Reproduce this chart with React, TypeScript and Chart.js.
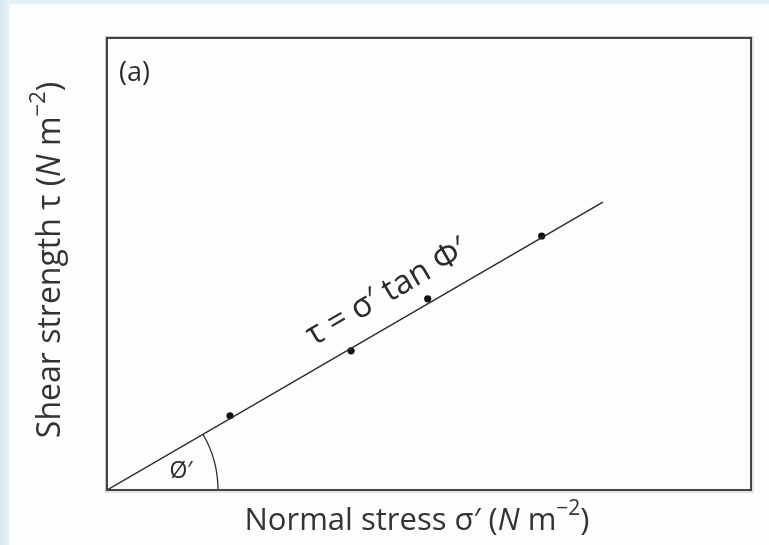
import React, { useEffect, useRef } from "react";
import { Chart, registerables } from "chart.js";

Chart.register(...registerables);

// Failure envelope (Mohr–Coulomb, no cohesion) and measured test points
const envelopeSigma = [0, 77];
const envelopeTau = [0, 63.7];
const testSigma = [19.1, 37.9, 49.8, 67.5];
const testTau = [16.4, 30.8, 42.3, 56.2];
const axisMin = 0;
const axisMax = 100;

const panelLabel = "(a)";
const angleLabel = "Ø′";
const envelopeLabel = "τ = σ′ tan Φ′";
const xTitleParts = [
  { t: "Normal stress σ′ (" },
  { t: "N", italic: true },
  { t: " m" },
  { t: "−2", sup: true },
  { t: ")" },
];
const yTitleParts = [
  { t: "Shear strength τ (" },
  { t: "N", italic: true },
  { t: " m" },
  { t: "−2", sup: true },
  { t: ")" },
];

const FONT = "'Open Sans', 'DejaVu Sans', sans-serif";
const INK = "#2b2b2b";

type Part = { t: string; italic?: boolean; sup?: boolean };

function partFont(p: Part, size: number) {
  const s = p.sup ? Math.round(size * 0.68) : size;
  return `${p.italic ? "italic " : ""}${s}px ${FONT}`;
}

// Draws a run of mixed-style text centred on (0,0) of the current transform
function drawRich(ctx: CanvasRenderingContext2D, parts: Part[], size: number) {
  let total = 0;
  const widths = parts.map((p) => {
    ctx.font = partFont(p, size);
    const w = ctx.measureText(p.t).width;
    total += w;
    return w;
  });
  let x = -total / 2;
  ctx.textBaseline = "middle";
  ctx.textAlign = "left";
  parts.forEach((p, i) => {
    ctx.font = partFont(p, size);
    ctx.fillText(p.t, x, p.sup ? -size * 0.38 : 0);
    x += widths[i];
  });
}

const decorations = {
  id: "decorations",
  afterDatasetsDraw(chart: any) {
    const { ctx, chartArea, scales } = chart;
    const xs = scales.x;
    const ys = scales.y;
    ctx.save();

    // Envelope angle arc at the origin
    const ox = xs.getPixelForValue(envelopeSigma[0]);
    const oy = ys.getPixelForValue(envelopeTau[0]);
    const ex = xs.getPixelForValue(envelopeSigma[1]);
    const ey = ys.getPixelForValue(envelopeTau[1]);
    const ang = Math.atan2(ey - oy, ex - ox);
    ctx.strokeStyle = INK;
    ctx.lineWidth = 1.3;
    ctx.beginPath();
    ctx.arc(ox, oy, 111, ang, 0);
    ctx.stroke();

    ctx.fillStyle = INK;
    ctx.font = `23px ${FONT}`;
    ctx.textAlign = "center";
    ctx.textBaseline = "middle";
    ctx.fillText(angleLabel, ox + 74, oy - 19);

    // Label written along the envelope
    const along = 45.8;
    const lx = xs.getPixelForValue(along);
    const ly = ys.getPixelForValue((along * envelopeTau[1]) / envelopeSigma[1]);
    ctx.save();
    ctx.translate(lx, ly);
    ctx.rotate(ang);
    ctx.translate(0, -30);
    ctx.font = `33px ${FONT}`;
    ctx.fillText(envelopeLabel, 0, 0);
    ctx.restore();

    // Panel label
    ctx.font = `27px ${FONT}`;
    ctx.textAlign = "left";
    ctx.fillText(panelLabel, chartArea.left + 12, chartArea.top + 35);

    // Plot frame
    ctx.strokeStyle = "#c8c8c8";
    ctx.lineWidth = 1;
    ctx.strokeRect(chartArea.left - 1.5, chartArea.top - 1.5, chartArea.width + 3.5, chartArea.height + 3.5);
    ctx.strokeStyle = "#444";
    ctx.lineWidth = 2;
    ctx.strokeRect(chartArea.left, chartArea.top, chartArea.width, chartArea.height);

    // Axis titles
    ctx.fillStyle = "#333";
    ctx.save();
    ctx.translate((chartArea.left + chartArea.right) / 2 - 12, chartArea.bottom + 31);
    drawRich(ctx, xTitleParts, 31);
    ctx.restore();

    ctx.save();
    ctx.translate(51, (chartArea.top + chartArea.bottom) / 2 - 4);
    ctx.rotate(-Math.PI / 2);
    drawRich(ctx, yTitleParts, 32);
    ctx.restore();

    ctx.restore();
  },
};

export default function App() {
  const ref = useRef<HTMLCanvasElement>(null);

  useEffect(() => {
    if (!ref.current) return;
    const chart = new Chart(ref.current, {
      type: "scatter",
      data: {
        datasets: [
          {
            label: "envelope",
            data: envelopeSigma.map((x, i) => ({ x, y: envelopeTau[i] })),
            showLine: true,
            borderColor: INK,
            borderWidth: 1.5,
            pointRadius: 0,
          },
          {
            label: "tests",
            data: testSigma.map((x, i) => ({ x, y: testTau[i] })),
            pointRadius: 3.6,
            pointBackgroundColor: "#111",
            pointBorderColor: "#111",
            borderWidth: 0,
          },
        ],
      },
      options: {
        animation: false,
        responsive: false,
        layout: { padding: { left: 107, top: 38, right: 18, bottom: 55 } },
        plugins: { legend: { display: false }, tooltip: { enabled: false } },
        scales: {
          x: { type: "linear", min: axisMin, max: axisMax, display: false },
          y: { type: "linear", min: axisMin, max: axisMax, display: false },
        },
      },
      plugins: [decorations],
    });
    return () => chart.destroy();
  }, []);

  return (
    <div
      style={{
        position: "absolute",
        left: 0,
        top: 0,
        width: 769,
        height: 545,
        background:
          "linear-gradient(to right, #d9e8ef 0px, #e6f1f5 9px, rgba(255,255,255,0) 10px), linear-gradient(to bottom, #e2f1f4 0px, #e6f3f6 4px, #fdfdfd 5px)",
      }}
    >
      <canvas ref={ref} width={769} height={545} style={{ display: "block" }} />
    </div>
  );
}
